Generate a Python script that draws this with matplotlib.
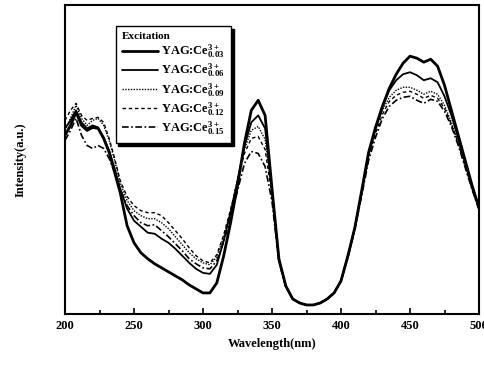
import matplotlib
matplotlib.use("Agg")
import matplotlib.pyplot as plt
from matplotlib.ticker import MultipleLocator

plt.rcParams['font.family'] = ['Liberation Serif', 'DejaVu Serif']
plt.rcParams['font.weight'] = 'bold'
plt.rcParams['mathtext.fontset'] = 'custom'
plt.rcParams['mathtext.rm'] = 'Liberation Serif:bold'
plt.rcParams['mathtext.bf'] = 'Liberation Serif:bold'
plt.rcParams['mathtext.it'] = 'Liberation Serif:bold'
plt.rcParams['mathtext.default'] = 'bf'

wavelength = [200, 204, 208, 212, 216, 220, 224, 228, 232, 236, 240,
              245, 250, 255, 260, 265, 270, 275, 280, 285, 290, 295, 300,
              305, 310, 315, 320, 325, 330, 335, 340, 345, 350, 355, 360,
              365, 370, 375, 380, 385, 390, 395, 400, 405, 410, 415, 420,
              425, 430, 435, 440, 445, 450, 455, 460, 465, 470, 475, 480,
              485, 490, 495, 500]

ce_003 = [178, 188, 201, 188, 183, 186, 185, 175, 161, 141, 121,
          88, 71, 61, 55, 50, 46, 42, 38, 34, 29, 25, 21,
          21, 31, 58, 91, 128, 170, 203, 213, 198, 125, 55, 28,
          15, 11, 9, 9, 11, 15, 21, 33, 58, 86, 123, 161,
          186, 207, 225, 239, 250, 257, 255, 251, 254, 247, 228, 203,
          178, 153, 128, 106]
ce_006 = [185, 193, 203, 191, 185, 188, 186, 176, 163, 145, 125,
          105, 93, 87, 81, 80, 75, 71, 65, 58, 51, 45, 41,
          40, 49, 73, 101, 133, 167, 191, 198, 185, 122, 54, 28,
          15, 11, 9, 9, 11, 15, 21, 33, 58, 86, 122, 160,
          185, 206, 223, 233, 239, 241, 238, 233, 235, 231, 217, 198,
          175, 151, 126, 105]
ce_009 = [183, 195, 208, 195, 188, 193, 195, 188, 173, 153, 131,
          113, 103, 98, 95, 95, 91, 85, 77, 69, 61, 55, 51,
          49, 57, 77, 103, 133, 164, 183, 187, 174, 120, 53, 27,
          15, 11, 9, 9, 11, 15, 21, 33, 57, 85, 121, 158,
          183, 203, 216, 223, 226, 226, 223, 219, 222, 219, 208, 191,
          171, 148, 125, 105]
ce_012 = [193, 203, 210, 198, 193, 195, 196, 191, 175, 155, 133,
          117, 108, 103, 101, 101, 98, 91, 83, 75, 66, 58, 53,
          51, 59, 79, 104, 133, 160, 175, 177, 164, 118, 53, 27,
          15, 11, 9, 9, 11, 15, 21, 33, 57, 85, 120, 157,
          180, 199, 212, 218, 221, 222, 219, 215, 218, 215, 205, 189,
          170, 147, 125, 105]
ce_015 = [173, 183, 195, 178, 168, 165, 168, 165, 155, 141, 125,
          108, 98, 91, 88, 89, 83, 77, 70, 63, 55, 50, 46,
          45, 53, 72, 95, 123, 150, 162, 160, 147, 112, 52, 27,
          15, 11, 9, 9, 11, 15, 21, 33, 56, 84, 118, 153,
          176, 195, 207, 213, 216, 217, 213, 210, 214, 212, 202, 187,
          168, 146, 124, 104]

labels = ['YAG:Ce$^{3+}_{0.03}$', 'YAG:Ce$^{3+}_{0.06}$', 'YAG:Ce$^{3+}_{0.09}$',
          'YAG:Ce$^{3+}_{0.12}$', 'YAG:Ce$^{3+}_{0.15}$']
series = [ce_003, ce_006, ce_009, ce_012, ce_015]
styles = [dict(lw=2.0, ls='-'),
          dict(lw=1.3, ls='-'),
          dict(lw=1.0, ls=(0, (1, 1))),
          dict(lw=1.0, ls=(0, (2.5, 2))),
          dict(lw=1.2, ls=(0, (4, 1.5, 1, 1.5)))]

fig = plt.figure(figsize=(4.84, 3.67), dpi=100)
ax = fig.add_axes([65 / 484, 1 - 314 / 367, (479 - 65) / 484, (314 - 5) / 367])

for ys, lab, st in zip(series, labels, styles):
    ax.plot(wavelength, ys, color='black', label=lab,
            solid_joinstyle='round', solid_capstyle='round', **st)

ax.set_xlim(200, 500)
ax.set_ylim(0, 308)
ax.set_yticks([])
ax.xaxis.set_major_locator(MultipleLocator(50))
ax.xaxis.set_minor_locator(MultipleLocator(25))
ax.tick_params(axis='x', which='both', direction='in', top=False, labelsize=9, width=1.2)
ax.tick_params(axis='x', which='major', length=4, pad=4)
ax.tick_params(axis='x', which='minor', length=3)
for lbl in ax.get_xticklabels():
    lbl.set_fontweight('bold')
for sp in ax.spines.values():
    sp.set_linewidth(1.5)

ax.set_xlabel('Wavelength(nm)', fontsize=9, fontweight='bold', labelpad=5)
ax.set_ylabel('Intensity(a.u.)', fontsize=9, fontweight='bold', labelpad=28)

leg = ax.legend(loc='upper left', bbox_to_anchor=(0.122, 0.932),
                title='Excitation', fontsize=9, title_fontsize=8,
                frameon=True, fancybox=False, edgecolor='black',
                shadow={'color': 'black', 'alpha': 1.0},
                handlelength=2.9, handletextpad=0.25, labelspacing=0.12,
                borderpad=0.5, borderaxespad=0.0, alignment='left')
leg.get_frame().set_linewidth(1.0)
leg.get_title().set_fontweight('bold')

fig.savefig('out.png', dpi=100)
